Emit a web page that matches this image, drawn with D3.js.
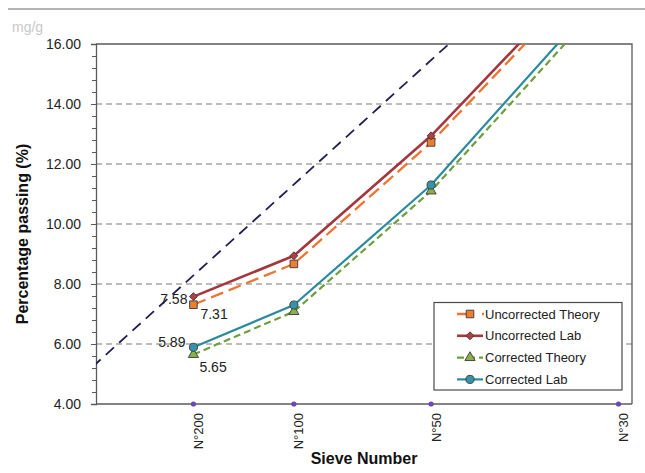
<!DOCTYPE html>
<html>
<head>
<meta charset="utf-8">
<script src="https://cdn.jsdelivr.net/npm/d3@7"></script>
<style>
  body { margin: 0; background: #fff; }
  svg { font-family: "Liberation Sans", Arial, sans-serif; }
</style>
</head>
<body>
<div id="chart"></div>
<script>
// sieve categories and sizes (mm)
var sieveLabels = ["N°200", "N°100", "N°50", "N°30"];
var sieveSizes = [0.075, 0.15, 0.3, 0.6];

// percentage passing per series
var uncorrectedTheory = [7.31, 8.67, 12.72, 19.27];
var uncorrectedLab = [7.58, 8.94, 12.94, 19.48];
var correctedTheory = [5.65, 7.08, 11.1, 17.97];
var correctedLab = [5.89, 7.3, 11.3, 18.27];

// maximum density line (0.45 power)
var maxDensitySizes = [0, 19];
var maxDensityPassing = [0, 100];

var yTicks = [4, 6, 8, 10, 12, 14, 16];

!function(){
  var W = 645, H = 473;
  var pl = 96, pr = 632, pt = 44, pb = 404;

  var svg = d3.select('#chart').append('svg')
    .attr('width', W).attr('height', H);

  var x = d3.scalePow().exponent(0.45).domain([0.0283, 0.626]).range([pl, pr]);
  var y = d3.scaleLinear().domain([4, 16]).range([pb, pt]);

  // header rule and faded unit text
  svg.append('line')
    .attr('x1', 8).attr('x2', W).attr('y1', 9).attr('y2', 9)
    .style('stroke', '#b4b4b4').style('stroke-width', 2);
  svg.append('text')
    .attr('x', 12).attr('y', 32)
    .text('mg/g')
    .style('fill', '#c8c8c8').style('font-size', '14px');

  svg.append('clipPath').attr('id', 'plot')
    .append('rect').attr('x', pl).attr('y', pt)
    .attr('width', pr - pl).attr('height', pb - pt);

  // gridlines
  svg.append('g').selectAll('line')
    .data(yTicks.filter(function(d){ return d > 4 && d < 16; }))
    .enter().append('line')
    .attr('x1', pl).attr('x2', pr)
    .attr('y1', function(d){ return y(d); }).attr('y2', function(d){ return y(d); })
    .style('stroke', '#a6a6a6').style('stroke-width', 1.3)
    .style('stroke-dasharray', '6,4');

  // frame top / right
  svg.append('path')
    .attr('d', 'M' + pl + ',' + pt + 'H' + pr + 'V' + pb)
    .style('fill', 'none').style('stroke', '#5a5a5a').style('stroke-width', 1.3);

  // y axis
  var yAxis = svg.append('g')
    .attr('transform', 'translate(' + pl + ',0)')
    .call(d3.axisLeft(y).tickValues(yTicks).tickSize(5).tickPadding(10)
      .tickFormat(d3.format('.2f')));
  yAxis.select('.domain').style('stroke', '#5a5a5a').style('stroke-width', 1.3);
  yAxis.selectAll('.tick line').style('stroke', '#5a5a5a');
  yAxis.selectAll('text').style('font-size', '14px').style('fill', '#222')
    .style('font-family', '"Liberation Sans", Arial, sans-serif');

  // minor ticks
  svg.append('g').selectAll('line')
    .data(d3.range(4.4, 16, 0.4))
    .enter().append('line')
    .attr('x1', pl - 4).attr('x2', pl)
    .attr('y1', function(d){ return Math.round(y(d)) + 0.5; })
    .attr('y2', function(d){ return Math.round(y(d)) + 0.5; })
    .style('stroke', '#5a5a5a');

  // x axis
  svg.append('line')
    .attr('x1', pl).attr('x2', pr).attr('y1', pb).attr('y2', pb)
    .style('stroke', '#5a5a5a').style('stroke-width', 1.3);
  svg.append('g').selectAll('circle')
    .data(sieveSizes)
    .enter().append('circle')
    .attr('cx', function(d){ return x(d); }).attr('cy', pb)
    .attr('r', 2.6).style('fill', '#6b47b8');
  svg.append('g').selectAll('text')
    .data(sieveLabels)
    .enter().append('text')
    .attr('transform', function(d, i){
      return 'translate(' + (x(sieveSizes[i]) + 5) + ',' + 413 + ') rotate(-90)';
    })
    .attr('text-anchor', 'end')
    .attr('dy', '0.35em')
    .style('font-size', '13px').style('fill', '#222')
    .text(function(d){ return d; });

  // axis titles
  svg.append('text')
    .attr('x', (pl + pr) / 2).attr('y', 464)
    .attr('text-anchor', 'middle')
    .style('font-size', '16px').style('font-weight', 'bold').style('fill', '#111')
    .text('Sieve Number');
  svg.append('text')
    .attr('transform', 'translate(28,234) rotate(-90)')
    .attr('text-anchor', 'middle')
    .style('font-size', '16px').style('font-weight', 'bold').style('fill', '#111')
    .text('Percentage passing (%)');

  var plot = svg.append('g').attr('clip-path', 'url(#plot)');

  // max density line
  var straight = d3.line()
    .x(function(d){ return x(d[0]); })
    .y(function(d){ return y(d[1]); });
  plot.append('path')
    .datum(d3.zip(maxDensitySizes, maxDensityPassing))
    .attr('d', straight)
    .style('fill', 'none').style('stroke', '#1f1f50').style('stroke-width', 1.8)
    .style('stroke-dasharray', '11,7');

  var series = [
    {name: 'Uncorrected Theory', values: uncorrectedTheory, color: '#ee7430', fill: '#ed7d31',
     dash: '13,6', width: 2.3, marker: 'square', dx: 7, dy: 9, anchor: 'start'},
    {name: 'Uncorrected Lab', values: uncorrectedLab, color: '#a3373d', fill: '#b0403f',
     dash: null, width: 2.6, marker: 'diamond', dx: -6, dy: 2, anchor: 'end'},
    {name: 'Corrected Theory', values: correctedTheory, color: '#6f9e3c', fill: '#8ab04a',
     dash: '7,4', width: 2.2, marker: 'triangle', dx: 6, dy: 12.5, anchor: 'start'},
    {name: 'Corrected Lab', values: correctedLab, color: '#2a8b9e', fill: '#3394a7',
     dash: null, width: 2.2, marker: 'circle', dx: -8, dy: -5, anchor: 'end'}
  ];

  var symbols = {
    square: d3.symbol().type(d3.symbolSquare).size(58),
    diamond: d3.symbol().type(d3.symbolDiamond2 || d3.symbolDiamond).size(40),
    triangle: d3.symbol().type(d3.symbolTriangle).size(45),
    circle: d3.symbol().type(d3.symbolCircle).size(52)
  };

  var polyline = d3.line()
    .x(function(d, i){ return x(sieveSizes[i]); })
    .y(function(d){ return y(d); });

  series.forEach(function(s){
    plot.append('path')
      .datum(s.values)
      .attr('d', polyline)
      .style('fill', 'none').style('stroke', s.color).style('stroke-width', s.width)
      .style('stroke-linejoin', 'round')
      .style('stroke-dasharray', s.dash);
  });
  series.forEach(function(s){
    plot.selectAll(null)
      .data(s.values)
      .enter().append('path')
      .attr('d', symbols[s.marker])
      .attr('transform', function(d, i){
        return 'translate(' + x(sieveSizes[i]) + ',' + y(d) + ')';
      })
      .style('fill', s.fill).style('stroke', '#3a3a3a').style('stroke-width', 0.9);
  });

  // data labels at N°200
  series.forEach(function(s){
    var px = x(sieveSizes[0]), py = y(s.values[0]);
    svg.append('text')
      .attr('x', px + s.dx)
      .attr('y', py + s.dy)
      .attr('dy', '0.35em')
      .attr('text-anchor', s.anchor)
      .style('font-size', '14px').style('fill', '#222')
      .text(s.values[0].toFixed(2));
  });

  // legend
  var lg = svg.append('g').attr('transform', 'translate(434,302.5)');
  lg.append('rect')
    .attr('width', 188).attr('height', 87.5)
    .style('fill', '#fff').style('stroke', '#4a4a4a').style('stroke-width', 1.2);
  series.forEach(function(s, i){
    var ly = 11.5 + i * 21.8;
    lg.append('line')
      .attr('x1', 23).attr('x2', s.marker === 'square' ? 50 : 49)
      .attr('y1', ly).attr('y2', ly)
      .style('stroke', s.color).style('stroke-width', s.width)
      .style('stroke-dasharray', s.marker === 'square' ? '12,13,2,4' : (s.dash ? '7,4' : null));
    lg.append('path')
      .attr('d', symbols[s.marker])
      .attr('transform', 'translate(36,' + ly + ')')
      .style('fill', s.fill).style('stroke', '#3a3a3a').style('stroke-width', 0.9);
    lg.append('text')
      .attr('x', 51).attr('y', ly).attr('dy', '0.35em')
      .style('font-size', '13px').style('fill', '#222')
      .text(s.name);
  });
}();
</script>
</body>
</html>
